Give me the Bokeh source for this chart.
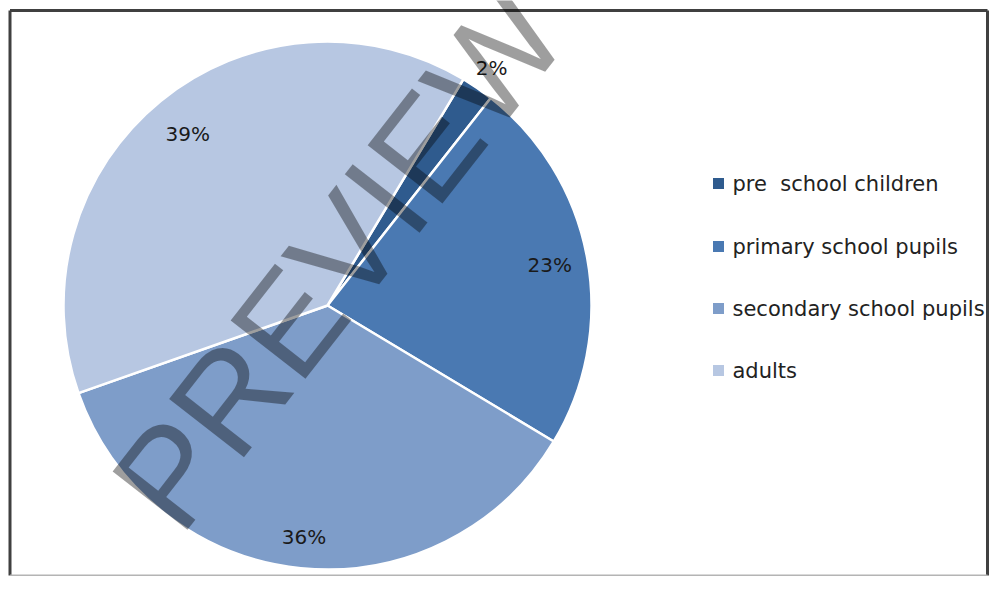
import math
from bokeh.plotting import figure
from bokeh.models import Range1d, ColumnDataSource
from bokeh.core.properties import value
from bokeh.embed import file_html
from bokeh.resources import INLINE

categories = ["pre\u00a0 school children", "primary school pupils", "secondary school pupils", "adults"]
shares = [2, 23, 36, 39]
pct_labels = ["2%", "23%", "36%", "39%"]
colors = ["#2F5B8E", "#4A79B2", "#7E9DC9", "#B7C7E2"]

W, H = 989, 576
p = figure(width=W, height=H, output_backend="svg", toolbar_location=None,
           x_range=Range1d(0, W), y_range=Range1d(0, H), min_border=0)
p.axis.visible = False
p.grid.visible = False
p.outline_line_color = None

def Y(py):
    return H - py

# frame
p.segment(x0=[9.5, 9.5, 987.0], y0=[Y(10), Y(10), Y(10)],
          x1=[987.0, 9.5, 987.0], y1=[Y(10), Y(575), Y(575)],
          line_color="#404040", line_width=3)
p.segment(x0=[9.5], y0=[Y(575)], x1=[987.0], y1=[Y(575)],
          line_color="#b4b4b4", line_width=2)

cx, cy, R = 327, Y(305), 264
start_deg = 31.0  # clockwise from 12 o'clock

total = float(sum(shares))
starts, ends, lx, ly = [], [], [], []
label_r = [289, 226, 233, 221]
acc = start_deg
for i, s in enumerate(shares):
    a0 = acc
    a1 = acc + 360.0 * s / total
    acc = a1
    starts.append(math.radians(90 - a1))
    ends.append(math.radians(90 - a0))
    mid = math.radians(90 - (a0 + a1) / 2)
    lx.append(cx + label_r[i] * math.cos(mid))
    ly.append(cy + label_r[i] * math.sin(mid))

src = ColumnDataSource(dict(start=starts, end=ends, color=colors, cat=categories,
                            lx=lx, ly=ly, lab=pct_labels))
p.wedge(x=cx, y=cy, radius=R, start_angle="start", end_angle="end",
        fill_color="color", line_color="white", line_width=2.5, source=src)

p.text(x="lx", y="ly", text="lab", source=src, text_font=value("DejaVu Sans"),
       text_font_size="20px", text_color="#1a1a1a", text_align="center",
       text_baseline="middle")

# legend (manual)
leg_y = [Y(183), Y(246), Y(308), Y(370)]
src_leg = ColumnDataSource(dict(y=leg_y, color=colors, cat=categories))
p.scatter(x=718, y="y", marker="square", size=11, fill_color="color",
          line_color=None, source=src_leg)
p.text(x=732, y="y", text="cat", source=src_leg, text_font=value("DejaVu Sans"),
       text_font_size="21px", text_color="#222222", text_align="left",
       text_baseline="middle")

# watermark
p.text(x=[338], y=[Y(258)], text=["PREVIEW"], text_font=value("Liberation Sans"),
       text_font_size="138px", text_color="#000000", text_alpha=0.38,
       angle=math.radians(52), text_align="center", text_baseline="middle")

open("out.html", "w").write(file_html(p, INLINE))
